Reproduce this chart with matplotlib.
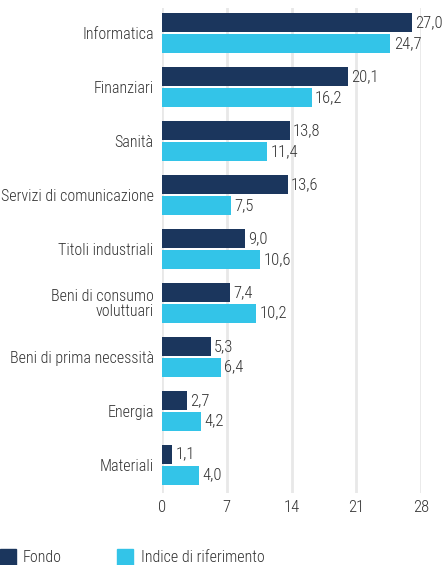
import matplotlib
matplotlib.use('Agg')
import matplotlib.pyplot as plt
import numpy as np
from matplotlib.patches import Rectangle

plt.rcParams['font.family'] = ['Roboto Condensed', 'DejaVu Sans']
plt.rcParams['font.weight'] = 'light'

categories = ["Informatica", "Finanziari", "Sanità", "Servizi di comunicazione",
              "Titoli industriali", "Beni di consumo\nvoluttuari",
              "Beni di prima necessità", "Energia", "Materiali"]
fondo = [27.0, 20.1, 13.8, 13.6, 9.0, 7.4, 5.3, 2.7, 1.1]
indice = [24.7, 16.2, 11.4, 7.5, 10.6, 10.2, 6.4, 4.2, 4.0]
xticks = [0, 7, 14, 21, 28]

DARK = '#1b365d'
LIGHT = '#33c4e8'
TXT = '#333333'
FS = 11.5

fig = plt.figure(figsize=(4.46, 5.65), dpi=100)
ax = fig.add_axes([162/446, 1 - 493/565, (421-162)/446, (493-8)/565])

y = np.arange(len(categories))
h = 0.35
ax.barh(y - 0.19, fondo, height=h, color=DARK, zorder=3)
ax.barh(y + 0.19, indice, height=h, color=LIGHT, zorder=3)

for yi, v in zip(y, fondo):
    ax.text(v + 0.35, yi - 0.19, f"{v:.1f}".replace('.', ','), va='center', ha='left',
            fontsize=FS + 0.5, color=TXT)
for yi, v in zip(y, indice):
    ax.text(v + 0.35, yi + 0.19, f"{v:.1f}".replace('.', ','), va='center', ha='left',
            fontsize=FS + 0.5, color=TXT)

ax.set_xlim(0, 28)
ax.set_ylim(8.52, -0.463)
ax.set_xticks(xticks)
ax.set_xticklabels([str(t) for t in xticks], fontsize=FS + 0.5, color=TXT)
ax.set_yticks(y)
ax.set_yticklabels(categories, fontsize=FS, color=TXT, linespacing=1.0)
ax.tick_params(length=0, pad=6)
ax.tick_params(axis='x', pad=5)
ax.grid(axis='x', color='#e8e8e8', lw=2, zorder=0)
for s in ax.spines.values():
    s.set_visible(False)

# legend
fig.patches.append(Rectangle((0, 0), 16/446, 16/565, transform=fig.transFigure,
                             color=DARK))
fig.text(23/446, 1 - 557/565, "Fondo", fontsize=FS, color=TXT, va='center')
fig.patches.append(Rectangle((117/446, 0), 16/446, 16/565, transform=fig.transFigure,
                             color=LIGHT))
fig.text(141/446, 1 - 557/565, "Indice di riferimento", fontsize=FS, color=TXT, va='center')

plt.savefig('out.png', dpi=100)
